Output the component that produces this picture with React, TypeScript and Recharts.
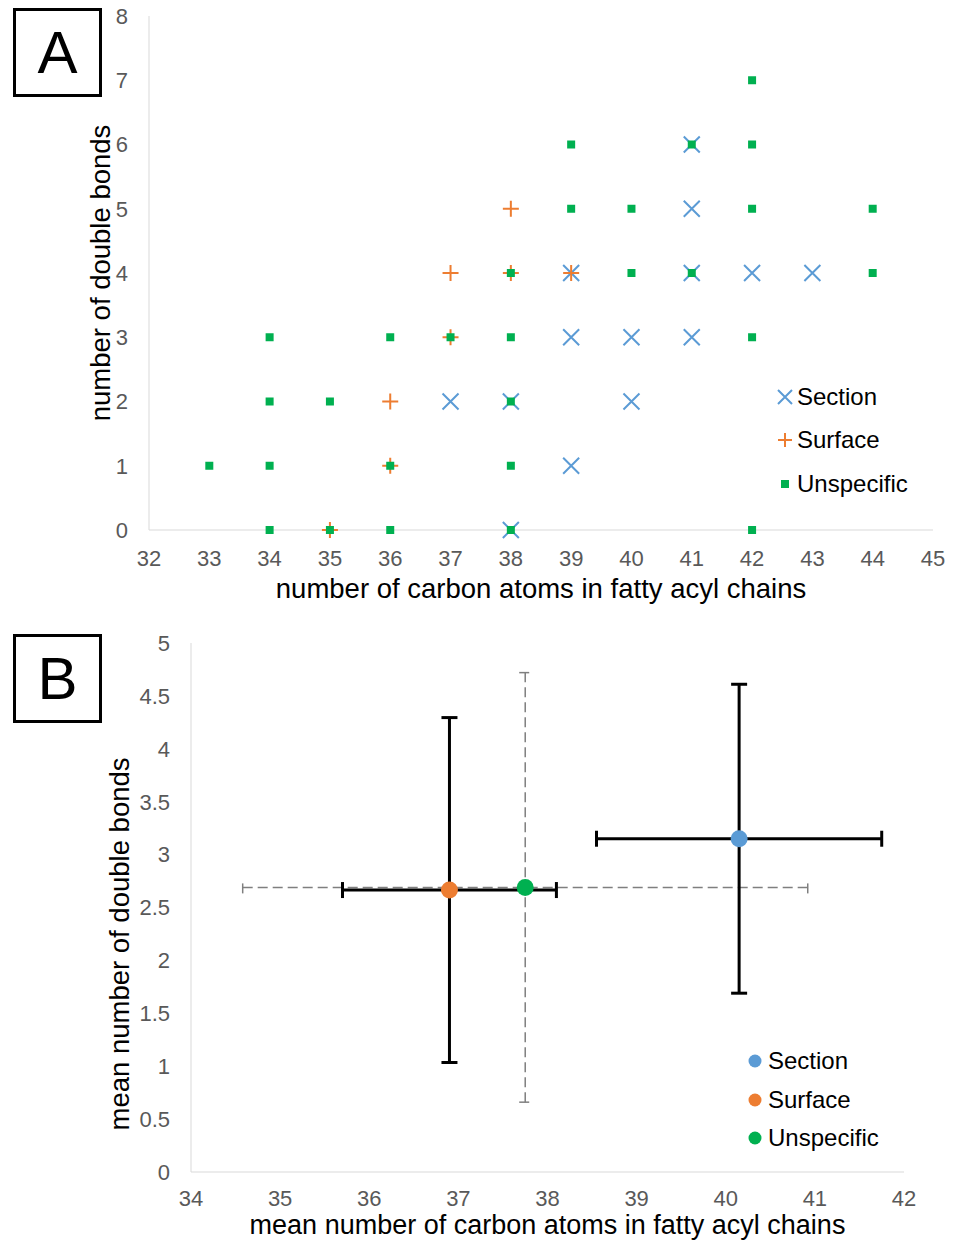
import { ScatterChart, Scatter, XAxis, YAxis, ErrorBar, Legend, Label } from 'recharts';

const FONT = '"Liberation Sans", Arial, sans-serif';
const BLUE = '#5b9bd5';
const ORANGE = '#ed7d31';
const GREEN = '#00b050';
const AXIS = '#d9d9d9';
const TICK = '#595959';

// panel A: [carbon atoms, double bonds]
const sectionA = [[38, 0], [39, 1], [37, 2], [38, 2], [40, 2], [39, 3], [40, 3], [41, 3], [39, 4], [41, 4], [42, 4], [43, 4], [41, 5], [41, 6]];
const surfaceA = [[35, 0], [36, 1], [36, 2], [37, 3], [37, 4], [38, 4], [39, 4], [38, 5]];
const unspecificA = [
  [33, 1], [34, 0], [34, 1], [34, 2], [34, 3], [35, 0], [35, 2], [36, 0], [36, 1], [36, 3],
  [37, 3], [38, 0], [38, 1], [38, 2], [38, 3], [38, 4], [39, 5], [39, 6], [40, 4], [40, 5],
  [41, 4], [41, 6], [42, 0], [42, 3], [42, 5], [42, 6], [42, 7], [44, 4], [44, 5],
];
const carbonTicksA = [32, 33, 34, 35, 36, 37, 38, 39, 40, 41, 42, 43, 44, 45];
const bondTicksA = [0, 1, 2, 3, 4, 5, 6, 7, 8];

// panel B: means and standard deviations
const groupsB = ['Section', 'Surface', 'Unspecific'];
const meanCarbonB = [40.15, 36.9, 37.75];
const meanBondsB = [3.15, 2.665, 2.69];
const sdCarbonB = [1.6, 1.2, 3.17];
const sdBondsB = [1.46, 1.63, 2.03];
const carbonTicksB = [34, 35, 36, 37, 38, 39, 40, 41, 42];
const bondTicksB = [0, 0.5, 1, 1.5, 2, 2.5, 3, 3.5, 4, 4.5, 5];

const toPoints = (pairs: number[][]) => pairs.map(([x, y]) => ({ x, y }));
const pointB = (i: number) => [{ x: meanCarbonB[i], y: meanBondsB[i], ex: sdCarbonB[i], ey: sdBondsB[i] }];
const colorsB = [BLUE, ORANGE, GREEN];

const XMark = ({ cx, cy }: any) => (
  <path d={`M${cx - 8},${cy - 8}L${cx + 8},${cy + 8}M${cx - 8},${cy + 8}L${cx + 8},${cy - 8}`} stroke={BLUE} strokeWidth={2} fill="none" />
);
const PlusMark = ({ cx, cy }: any) => (
  <path d={`M${cx - 8},${cy}L${cx + 8},${cy}M${cx},${cy - 8}L${cx},${cy + 8}`} stroke={ORANGE} strokeWidth={2} fill="none" />
);
const SquareMark = ({ cx, cy }: any) => <rect x={cx - 4} y={cy - 4} width={8} height={8} fill={GREEN} />;
const Nothing = () => <g />;

const tickStyle = { fill: TICK, fontSize: 22, fontFamily: FONT };
const titleStyle = { fill: '#000', fontSize: 27.5, fontFamily: FONT };

const yTitle = (text: string, cx: number, cy: number) => () => (
  <text x={cx} y={cy} transform={`rotate(-90 ${cx} ${cy})`} textAnchor="middle" dominantBaseline="central" style={titleStyle}>
    {text}
  </text>
);

const LegendA = () => {
  const rows = [
    { name: 'Section', icon: <path d="M3,3L17,17M3,17L17,3" stroke={BLUE} strokeWidth={2} /> },
    { name: 'Surface', icon: <path d="M3,10L17,10M10,3L10,17" stroke={ORANGE} strokeWidth={2} /> },
    { name: 'Unspecific', icon: <rect x={6} y={6} width={8} height={8} fill={GREEN} /> },
  ];
  return (
    <div style={{ fontFamily: FONT, fontSize: 24, color: '#000' }}>
      {rows.map((r) => (
        <div key={r.name} style={{ display: 'flex', alignItems: 'center', height: 43.5 }}>
          <svg width={20} height={20}>{r.icon}</svg>
          <span style={{ marginLeft: 2 }}>{r.name}</span>
        </div>
      ))}
    </div>
  );
};

const LegendB = () => (
  <div style={{ fontFamily: FONT, fontSize: 24, color: '#000' }}>
    {groupsB.map((name, i) => (
      <div key={name} style={{ display: 'flex', alignItems: 'center', height: 38.5 }}>
        <svg width={14} height={14}><circle cx={7} cy={7} r={6.5} fill={colorsB[i]} /></svg>
        <span style={{ marginLeft: 6 }}>{name}</span>
      </div>
    ))}
  </div>
);

const boxStyle = (top: number): any => ({
  position: 'absolute', left: 13, top, width: 89, height: 89, border: '3px solid #000', boxSizing: 'border-box',
  display: 'flex', alignItems: 'center', justifyContent: 'center', fontSize: 60, fontFamily: FONT, background: '#fff',
});

export default function App() {
  return (
    <div style={{ position: 'absolute', left: 0, top: 0, width: 959, height: 1241, background: '#fff', overflow: 'hidden' }}>
      <div style={{ position: 'absolute', left: 0, top: 0 }}>
        <ScatterChart width={959} height={610} margin={{ top: 16, right: 26, bottom: 10, left: 51 }}>
          <XAxis type="number" dataKey="x" domain={[32, 45]} ticks={carbonTicksA} interval={0} tickLine={false}
            axisLine={{ stroke: AXIS }} tick={tickStyle} tickMargin={14} height={70}>
            <Label value="number of carbon atoms in fatty acyl chains" position="insideBottom" offset={2} style={titleStyle} />
          </XAxis>
          <YAxis type="number" dataKey="y" domain={[0, 8]} ticks={bondTicksA} interval={0} tickLine={false}
            axisLine={{ stroke: AXIS }} tick={tickStyle} tickMargin={15} width={98}>
            <Label content={yTitle('number of double bonds', 100, 273)} />
          </YAxis>
          <Scatter name="Section" data={toPoints(sectionA)} shape={XMark} isAnimationActive={false} />
          <Scatter name="Surface" data={toPoints(surfaceA)} shape={PlusMark} isAnimationActive={false} />
          <Scatter name="Unspecific" data={toPoints(unspecificA)} shape={SquareMark} isAnimationActive={false} />
          <Legend content={() => <LegendA />} layout="horizontal" verticalAlign="middle" align="center"
            wrapperStyle={{ left: 775, top: 375, width: 180 }} />
        </ScatterChart>
      </div>

      <div style={{ position: 'absolute', left: 0, top: 610 }}>
        <ScatterChart width={959} height={631} margin={{ top: 33, right: 55, bottom: 7, left: 47 }}>
          <XAxis type="number" dataKey="x" domain={[34, 42]} ticks={carbonTicksB} interval={0} tickLine={false}
            axisLine={{ stroke: AXIS }} tick={tickStyle} tickMargin={12} height={62}>
            <Label value="mean number of carbon atoms in fatty acyl chains" position="insideBottom" offset={0} style={{ ...titleStyle, fontSize: 27 }} />
          </XAxis>
          <YAxis type="number" dataKey="y" domain={[0, 5]} ticks={bondTicksB} interval={0} tickLine={false}
            axisLine={{ stroke: AXIS }} tick={tickStyle} tickMargin={15} width={144}>
            <Label content={yTitle('mean number of double bonds', 119, 334)} />
          </YAxis>
          {/* error bars first so every marker sits on top */}
          <Scatter name="Unspecific SD" data={pointB(2)} shape={Nothing} legendType="none" isAnimationActive={false}>
            <ErrorBar dataKey="ex" direction="x" width={6} stroke="#7f7f7f" strokeWidth={1.5} strokeDasharray="10 5" isAnimationActive={false} />
            <ErrorBar dataKey="ey" direction="y" width={6} stroke="#7f7f7f" strokeWidth={1.5} strokeDasharray="10 5" isAnimationActive={false} />
          </Scatter>
          {[0, 1].map((i) => (
            <Scatter key={`sd-${i}`} name={`${groupsB[i]} SD`} data={pointB(i)} shape={Nothing} legendType="none" isAnimationActive={false}>
              <ErrorBar dataKey="ex" direction="x" width={8} stroke="#000" strokeWidth={3} isAnimationActive={false} />
              <ErrorBar dataKey="ey" direction="y" width={8} stroke="#000" strokeWidth={3} isAnimationActive={false} />
            </Scatter>
          ))}
          {groupsB.map((name, i) => (
            <Scatter key={name} name={name} data={pointB(i)} fill={colorsB[i]} isAnimationActive={false}
              shape={({ cx, cy }: any) => <circle cx={cx} cy={cy} r={8.5} fill={colorsB[i]} />} />
          ))}
          <Legend content={() => <LegendB />} layout="horizontal" verticalAlign="middle" align="center"
            wrapperStyle={{ left: 748, top: 432, width: 180 }} />
        </ScatterChart>
      </div>

      <div style={boxStyle(8)}>A</div>
      <div style={boxStyle(634)}>B</div>
    </div>
  );
}
